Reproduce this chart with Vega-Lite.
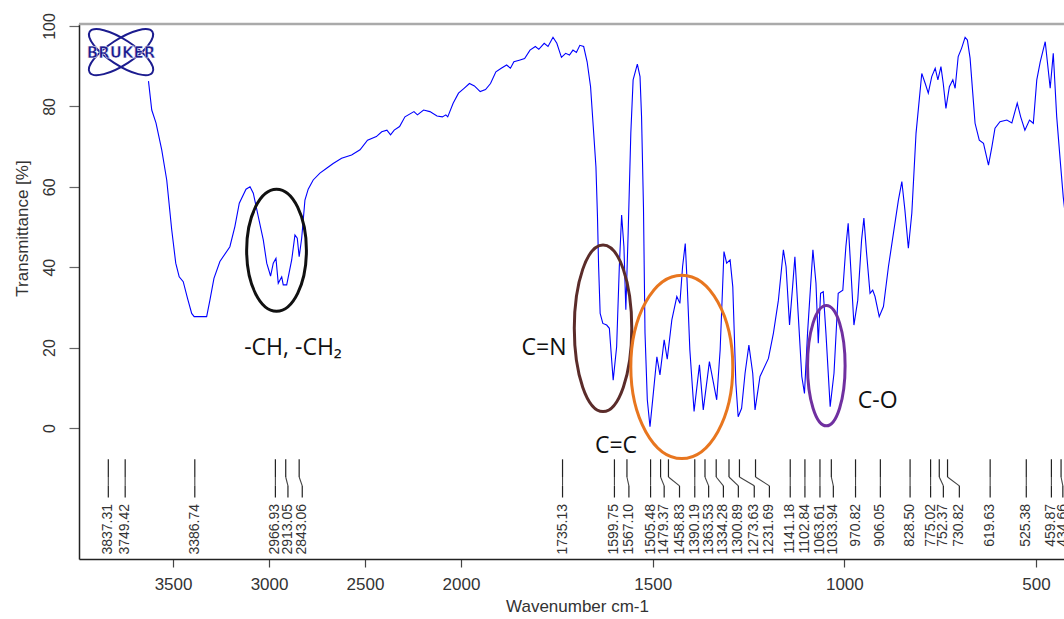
{
  "$schema": "https://vega.github.io/schema/vega-lite/v6.json",
  "width": 985,
  "height": 535,
  "autosize": {"type": "none"},
  "padding": {"left": 79, "top": 24, "right": 0, "bottom": 60},
  "background": "white",
  "view": {"stroke": null},
  "config": {"font": "Liberation Sans"},
  "datasets": {
    "spec": [
      {"wn":3628,"t":86.3},{"wn":3611,"t":79.1},{"wn":3589,"t":75.9},{"wn":3559,"t":69.2},{"wn":3533,"t":61.7},
      {"wn":3507,"t":49.3},{"wn":3486,"t":41.0},{"wn":3468,"t":37.6},{"wn":3447,"t":36.4},{"wn":3425,"t":32.3},
      {"wn":3403,"t":28.5},{"wn":3390,"t":27.7},{"wn":3325,"t":27.7},{"wn":3308,"t":31.8},{"wn":3287,"t":37.2},
      {"wn":3256,"t":41.4},{"wn":3204,"t":45.1},{"wn":3178,"t":50.1},{"wn":3155,"t":55.9},{"wn":3120,"t":59.4},
      {"wn":3099,"t":60.0},{"wn":3082,"t":58.4},{"wn":3056,"t":52.6},{"wn":3030,"t":46.8},{"wn":3012,"t":41.0},
      {"wn":2992,"t":37.8},{"wn":2978,"t":41.0},{"wn":2964,"t":42.2},{"wn":2952,"t":36.0},{"wn":2934,"t":37.6},
      {"wn":2926,"t":35.6},{"wn":2908,"t":35.6},{"wn":2882,"t":41.8},{"wn":2865,"t":48.0},{"wn":2853,"t":47.2},
      {"wn":2843,"t":42.6},{"wn":2830,"t":47.2},{"wn":2813,"t":56.7},{"wn":2796,"t":59.4},{"wn":2770,"t":61.7},
      {"wn":2735,"t":63.4},{"wn":2700,"t":64.6},{"wn":2666,"t":65.8},{"wn":2622,"t":67.1},{"wn":2570,"t":67.9},
      {"wn":2526,"t":69.2},{"wn":2487,"t":71.6},{"wn":2441,"t":72.5},{"wn":2413,"t":73.7},{"wn":2386,"t":74.1},
      {"wn":2367,"t":72.9},{"wn":2348,"t":74.1},{"wn":2320,"t":75.0},{"wn":2292,"t":77.4},{"wn":2245,"t":78.7},
      {"wn":2227,"t":77.9},{"wn":2195,"t":79.1},{"wn":2162,"t":78.7},{"wn":2125,"t":77.6},{"wn":2097,"t":77.4},
      {"wn":2079,"t":77.9},{"wn":2069,"t":77.4},{"wn":2041,"t":80.8},{"wn":2013,"t":83.3},{"wn":1992,"t":84.5},
      {"wn":1978,"t":85.7},{"wn":1965,"t":85.1},{"wn":1950,"t":83.7},{"wn":1936,"t":84.2},{"wn":1923,"t":85.7},
      {"wn":1909,"t":88.6},{"wn":1895,"t":89.5},{"wn":1881,"t":90.3},{"wn":1871,"t":89.5},{"wn":1862,"t":91.1},
      {"wn":1848,"t":91.5},{"wn":1834,"t":91.9},{"wn":1820,"t":94.0},{"wn":1806,"t":94.9},{"wn":1797,"t":94.2},
      {"wn":1783,"t":95.7},{"wn":1773,"t":94.9},{"wn":1760,"t":97.2},{"wn":1750,"t":95.7},{"wn":1738,"t":92.2},
      {"wn":1727,"t":93.2},{"wn":1717,"t":92.8},{"wn":1708,"t":94.0},{"wn":1699,"t":93.4},{"wn":1690,"t":95.2},
      {"wn":1680,"t":94.9},{"wn":1671,"t":91.1},{"wn":1662,"t":84.9},{"wn":1655,"t":75.0},{"wn":1648,"t":65.0},
      {"wn":1644,"t":52.6},{"wn":1641,"t":40.1},{"wn":1637,"t":28.5},{"wn":1630,"t":26.0},{"wn":1620,"t":25.6},
      {"wn":1613,"t":24.8},{"wn":1607,"t":16.9},{"wn":1603,"t":11.9},{"wn":1594,"t":20.2},{"wn":1587,"t":40.1},
      {"wn":1581,"t":53.0},{"wn":1575,"t":45.1},{"wn":1570,"t":29.4},{"wn":1564,"t":48.4},{"wn":1557,"t":73.3},
      {"wn":1551,"t":86.6},{"wn":1540,"t":90.5},{"wn":1533,"t":87.4},{"wn":1529,"t":77.4},{"wn":1524,"t":55.0},
      {"wn":1520,"t":23.6},{"wn":1514,"t":7.0},{"wn":1507,"t":0.3},{"wn":1500,"t":7.0},{"wn":1489,"t":17.7},
      {"wn":1481,"t":13.2},{"wn":1470,"t":21.9},{"wn":1462,"t":17.1},{"wn":1450,"t":26.9},{"wn":1437,"t":32.7},
      {"wn":1429,"t":31.0},{"wn":1422,"t":40.1},{"wn":1415,"t":45.9},{"wn":1410,"t":36.0},{"wn":1403,"t":19.4},
      {"wn":1392,"t":4.1},{"wn":1378,"t":15.7},{"wn":1368,"t":4.5},{"wn":1352,"t":16.5},{"wn":1333,"t":7.0},
      {"wn":1324,"t":19.4},{"wn":1314,"t":43.9},{"wn":1307,"t":41.0},{"wn":1298,"t":41.8},{"wn":1291,"t":35.1},
      {"wn":1283,"t":11.1},{"wn":1277,"t":2.8},{"wn":1268,"t":4.9},{"wn":1259,"t":13.6},{"wn":1249,"t":20.6},
      {"wn":1239,"t":13.6},{"wn":1233,"t":4.5},{"wn":1220,"t":12.8},{"wn":1198,"t":17.3},{"wn":1185,"t":23.6},
      {"wn":1172,"t":31.8},{"wn":1159,"t":44.3},{"wn":1152,"t":40.1},{"wn":1143,"t":25.6},{"wn":1135,"t":35.1},
      {"wn":1129,"t":42.6},{"wn":1120,"t":27.7},{"wn":1111,"t":12.8},{"wn":1104,"t":8.6},{"wn":1096,"t":23.6},
      {"wn":1082,"t":44.3},{"wn":1074,"t":36.0},{"wn":1068,"t":21.1},{"wn":1062,"t":33.5},{"wn":1055,"t":33.9},
      {"wn":1048,"t":23.6},{"wn":1037,"t":5.3},{"wn":1027,"t":13.6},{"wn":1016,"t":33.5},{"wn":1004,"t":34.3},
      {"wn":996,"t":45.1},{"wn":990,"t":50.9},{"wn":981,"t":36.0},{"wn":975,"t":25.6},{"wn":965,"t":31.8},
      {"wn":955,"t":46.8},{"wn":949,"t":52.2},{"wn":942,"t":43.5},{"wn":933,"t":33.5},{"wn":926,"t":34.3},
      {"wn":920,"t":32.7},{"wn":909,"t":27.7},{"wn":898,"t":30.2},{"wn":885,"t":40.1},{"wn":872,"t":48.4},
      {"wn":859,"t":56.7},{"wn":850,"t":61.3},{"wn":842,"t":54.2},{"wn":833,"t":44.7},{"wn":824,"t":53.4},
      {"wn":813,"t":73.3},{"wn":798,"t":88.2},{"wn":789,"t":85.7},{"wn":781,"t":83.3},{"wn":772,"t":87.4},
      {"wn":763,"t":89.5},{"wn":756,"t":86.6},{"wn":748,"t":89.9},{"wn":742,"t":85.7},{"wn":735,"t":79.5},
      {"wn":726,"t":84.9},{"wn":717,"t":86.6},{"wn":711,"t":84.5},{"wn":703,"t":92.4},{"wn":694,"t":94.5},
      {"wn":685,"t":97.2},{"wn":679,"t":96.5},{"wn":672,"t":92.0},{"wn":665,"t":83.3},{"wn":659,"t":75.8},
      {"wn":648,"t":71.6},{"wn":637,"t":70.8},{"wn":624,"t":65.4},{"wn":615,"t":70.0},{"wn":607,"t":74.6},
      {"wn":594,"t":76.2},{"wn":576,"t":76.6},{"wn":563,"t":75.9},{"wn":549,"t":80.8},{"wn":540,"t":77.4},
      {"wn":529,"t":74.1},{"wn":517,"t":76.6},{"wn":507,"t":75.8},{"wn":498,"t":86.6},{"wn":489,"t":91.1},
      {"wn":476,"t":96.1},{"wn":463,"t":84.5},{"wn":455,"t":93.2},{"wn":446,"t":77.4},{"wn":437,"t":66.7},
      {"wn":429,"t":57.5},{"wn":420,"t":50.0}
    ],
    "peaks": [
      {"wn":3837.31,"lx":3837.31,"label":"3837.31"},
      {"wn":3749.42,"lx":3749.42,"label":"3749.42"},
      {"wn":3386.74,"lx":3386.74,"label":"3386.74"},
      {"wn":2966.93,"lx":2966.93,"label":"2966.93"},
      {"wn":2913.05,"lx":2901.5,"label":"2913.05"},
      {"wn":2843.06,"lx":2827,"label":"2843.06"},
      {"wn":1735.13,"lx":1735.13,"label":"1735.13"},
      {"wn":1599.75,"lx":1599.75,"label":"1599.75"},
      {"wn":1567.10,"lx":1562,"label":"1567.10"},
      {"wn":1505.48,"lx":1505.48,"label":"1505.48"},
      {"wn":1479.37,"lx":1470,"label":"1479.37"},
      {"wn":1458.83,"lx":1430,"label":"1458.83"},
      {"wn":1390.19,"lx":1390.19,"label":"1390.19"},
      {"wn":1363.53,"lx":1354,"label":"1363.53"},
      {"wn":1334.28,"lx":1315.5,"label":"1334.28"},
      {"wn":1300.89,"lx":1276.5,"label":"1300.89"},
      {"wn":1273.63,"lx":1235,"label":"1273.63"},
      {"wn":1231.69,"lx":1195.5,"label":"1231.69"},
      {"wn":1141.18,"lx":1141.18,"label":"1141.18"},
      {"wn":1102.84,"lx":1102.84,"label":"1102.84"},
      {"wn":1063.61,"lx":1063.61,"label":"1063.61"},
      {"wn":1033.94,"lx":1028.7,"label":"1033.94"},
      {"wn":970.82,"lx":970.82,"label":"970.82"},
      {"wn":906.05,"lx":906.05,"label":"906.05"},
      {"wn":828.50,"lx":828.50,"label":"828.50"},
      {"wn":775.02,"lx":775.02,"label":"775.02"},
      {"wn":752.37,"lx":741.7,"label":"752.37"},
      {"wn":730.82,"lx":700,"label":"730.82"},
      {"wn":619.63,"lx":619.63,"label":"619.63"},
      {"wn":525.38,"lx":525.38,"label":"525.38"},
      {"wn":459.87,"lx":459.87,"label":"459.87"},
      {"wn":434.66,"lx":430,"label":"434.66"}
    ],
    "notes": [
      {"wn":2875,"t":19.9,"label":"-CH, -CH₂"},
      {"wn":1783.5,"t":19.8,"label":"C=N"},
      {"wn":1595.6,"t":-4.5,"label":"C=C"},
      {"wn":913,"t":6.7,"label":"C-O"}
    ]
  },
  "layer": [
    {
      "data": {"name": "spec"},
      "mark": {"type": "line", "color": "#0000ff", "strokeWidth": 1.1, "clip": true},
      "encoding": {
        "x": {
          "field": "wn", "type": "quantitative", "title": "Wavenumber cm-1",
          "scale": {"domain": [3990, 2000, 427], "range": [0, 382, 985], "zero": false, "nice": false},
          "axis": {
            "values": [3500, 3000, 2500, 2000, 1500, 1000, 500], "format": "d",
            "title": "Wavenumber cm-1", "grid": false,
            "domainColor": "#222", "domainWidth": 1.5,
            "tickColor": "#444", "tickSize": 8, "tickWidth": 1.2,
            "labelFont": "Liberation Sans", "labelFontSize": 17, "labelColor": "#333", "labelPadding": 9,
            "labelFlush": false, "labelOverlap": false,
            "titleFont": "Liberation Sans", "titleFontSize": 17, "titleFontWeight": "normal", "titleColor": "#333",
            "titleX": 498, "titleY": 47, "titleAlign": "center", "titleBaseline": "middle"
          }
        },
        "y": {
          "field": "t", "type": "quantitative", "title": "Transmittance [%]",
          "scale": {"domain": [-32.6, 100.5], "zero": false, "nice": false},
          "axis": {
            "values": [0, 20, 40, 60, 80, 100], "format": "d",
            "title": "Transmittance [%]", "grid": false,
            "domainColor": "#222", "domainWidth": 1.5,
            "tickColor": "#666", "tickSize": 10, "tickWidth": 1.2,
            "labelFont": "Liberation Sans", "labelFontSize": 16, "labelColor": "#333",
            "labelAngle": 270, "labelAlign": "center", "labelBaseline": "bottom", "labelPadding": 12,
            "labelFlush": false, "labelOverlap": false,
            "titleFont": "Liberation Sans", "titleFontSize": 17, "titleFontWeight": "normal", "titleColor": "#333",
            "titleAngle": 270, "titleX": -57, "titleY": 204, "titleAlign": "center", "titleBaseline": "middle"
          }
        }
      }
    },
    {
      "data": {"values": [{}]},
      "mark": {"type": "rule", "color": "#aaaaaa", "strokeWidth": 2.5},
      "encoding": {"y": {"datum": 100.5, "type": "quantitative"}}
    },
    {
      "data": {"name": "peaks"},
      "mark": {"type": "rule", "color": "#222", "strokeWidth": 1.2},
      "encoding": {
        "x": {"field": "wn", "type": "quantitative", "title": "Wavenumber cm-1"},
        "y": {"datum": -7.8, "type": "quantitative"},
        "y2": {"datum": -12.2}
      }
    },
    {
      "data": {"name": "peaks"},
      "mark": {"type": "rule", "color": "#444", "strokeWidth": 1.1},
      "encoding": {
        "x": {"field": "wn", "type": "quantitative", "title": "Wavenumber cm-1"},
        "x2": {"field": "lx"},
        "y": {"datum": -12.2, "type": "quantitative"},
        "y2": {"datum": -14.4}
      }
    },
    {
      "data": {"name": "peaks"},
      "mark": {"type": "rule", "color": "#222", "strokeWidth": 1.2},
      "encoding": {
        "x": {"field": "lx", "type": "quantitative", "title": "Wavenumber cm-1"},
        "y": {"datum": -14.4, "type": "quantitative"},
        "y2": {"datum": -17.3}
      }
    },
    {
      "data": {"name": "peaks"},
      "mark": {"type": "text", "angle": 270, "align": "right", "baseline": "middle", "font": "Liberation Sans", "fontSize": 14, "color": "#333"},
      "encoding": {
        "x": {"field": "lx", "type": "quantitative", "title": "Wavenumber cm-1"},
        "y": {"datum": -18.9, "type": "quantitative"},
        "text": {"field": "label"}
      }
    },
    {
      "data": {"values": [{"wn": 2961, "t": 44.2}]},
      "mark": {"type": "point", "filled": false, "opacity": 1, "color": "#111", "strokeWidth": 3, "size": 14884,
        "shape": "M -0.49 0 C -0.49 -0.5523 -0.2706 -1 0 -1 C 0.2706 -1 0.49 -0.5523 0.49 0 C 0.49 0.5523 0.2706 1 0 1 C -0.2706 1 -0.49 0.5523 -0.49 0 Z"},
      "encoding": {
        "x": {"field": "wn", "type": "quantitative", "title": "Wavenumber cm-1"},
        "y": {"field": "t", "type": "quantitative", "title": "Transmittance [%]"}
      }
    },
    {
      "data": {"values": [{"wn": 1629.5, "t": 24.8}]},
      "mark": {"type": "point", "filled": false, "opacity": 1, "color": "#5b2c2a", "strokeWidth": 3, "size": 27756,
        "shape": "M -0.345 0 C -0.345 -0.5523 -0.1905 -1 0 -1 C 0.1905 -1 0.345 -0.5523 0.345 0 C 0.345 0.5523 0.1905 1 0 1 C -0.1905 1 -0.345 0.5523 -0.345 0 Z"},
      "encoding": {
        "x": {"field": "wn", "type": "quantitative", "title": "Wavenumber cm-1"},
        "y": {"field": "t", "type": "quantitative", "title": "Transmittance [%]"}
      }
    },
    {
      "data": {"values": [{"wn": 1424, "t": 15.2}]},
      "mark": {"type": "point", "filled": false, "opacity": 1, "color": "#e8761f", "strokeWidth": 3, "size": 33636,
        "shape": "M -0.556 0 C -0.556 -0.5523 -0.3071 -1 0 -1 C 0.3071 -1 0.556 -0.5523 0.556 0 C 0.556 0.5523 0.3071 1 0 1 C -0.3071 1 -0.556 0.5523 -0.556 0 Z"},
      "encoding": {
        "x": {"field": "wn", "type": "quantitative", "title": "Wavenumber cm-1"},
        "y": {"field": "t", "type": "quantitative", "title": "Transmittance [%]"}
      }
    },
    {
      "data": {"values": [{"wn": 1047, "t": 15.5}]},
      "mark": {"type": "point", "filled": false, "opacity": 1, "color": "#7030a0", "strokeWidth": 3, "size": 14496,
        "shape": "M -0.312 0 C -0.312 -0.5523 -0.1723 -1 0 -1 C 0.1723 -1 0.312 -0.5523 0.312 0 C 0.312 0.5523 0.1723 1 0 1 C -0.1723 1 -0.312 0.5523 -0.312 0 Z"},
      "encoding": {
        "x": {"field": "wn", "type": "quantitative", "title": "Wavenumber cm-1"},
        "y": {"field": "t", "type": "quantitative", "title": "Transmittance [%]"}
      }
    },
    {
      "data": {"name": "notes"},
      "mark": {"type": "text", "align": "center", "baseline": "middle", "font": "Open Sans, Noto Sans, DejaVu Sans", "fontSize": 23, "color": "#111"},
      "encoding": {
        "x": {"field": "wn", "type": "quantitative", "title": "Wavenumber cm-1"},
        "y": {"field": "t", "type": "quantitative", "title": "Transmittance [%]"},
        "text": {"field": "label"}
      }
    },
    {
      "data": {"values": [{"wn": 3771, "t": 93.5, "a": 33}, {"wn": 3771, "t": 93.5, "a": -33}]},
      "mark": {"type": "point", "filled": false, "opacity": 1, "color": "#1c1c8f", "strokeWidth": 2, "size": 5600,
        "shape": "M -1 0 C -1 -0.19 -0.5523 -0.34 0 -0.34 C 0.5523 -0.34 1 -0.19 1 0 C 1 0.19 0.5523 0.34 0 0.34 C -0.5523 0.34 -1 0.19 -1 0 Z"},
      "encoding": {
        "x": {"field": "wn", "type": "quantitative", "title": "Wavenumber cm-1"},
        "y": {"field": "t", "type": "quantitative", "title": "Transmittance [%]"},
        "angle": {"field": "a", "type": "quantitative", "scale": null}
      }
    },
    {
      "data": {"values": [{"wn": 3771, "t": 93.3, "label": "BRUKER"}]},
      "mark": {"type": "text", "align": "center", "baseline": "middle", "font": "DejaVu Sans", "fontWeight": "bold", "fontSize": 15, "color": "#1c1c8f", "stroke": "white", "strokeWidth": 0.5},
      "encoding": {
        "x": {"field": "wn", "type": "quantitative", "title": "Wavenumber cm-1"},
        "y": {"field": "t", "type": "quantitative", "title": "Transmittance [%]"},
        "text": {"field": "label"}
      }
    }
  ]
}
